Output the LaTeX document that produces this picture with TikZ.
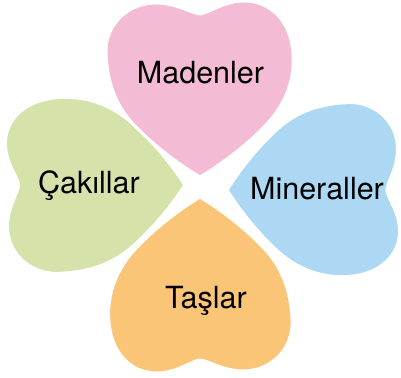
\documentclass[tikz,border=0pt]{standalone}
\usepackage{fontspec}
\setmainfont{TeX Gyre Heros}
\definecolor{petalpink}{RGB}{243,187,212}
\definecolor{petalgreen}{RGB}{213,226,170}
\definecolor{petalblue}{RGB}{172,216,243}
\definecolor{petalorange}{RGB}{250,197,118}
\newcommand\heartshape{(0,0) .. controls (20,12) and (45,30) .. (66,52)
 .. controls (86,73) and (95,98) .. (93,124)
 .. controls (91,154) and (72,177) .. (42,176)
 .. controls (22,175) and (9,164) .. (0,163)
 .. controls (-9,164) and (-22,173) .. (-42,174)
 .. controls (-72,175) and (-95,152) .. (-94,124)
 .. controls (-93,98) and (-86,73) .. (-66,52)
 .. controls (-45,30) and (-20,12) .. (0,0) -- cycle}
\tikzset{
  petal/.style={draw=white, line width=3pt, line join=round},
  label/.style={inner sep=0pt, anchor=base, font=\fontsize{30.5}{32}\selectfont, text=black}
}
\begin{document}
\begin{tikzpicture}[x=1pt,y=1pt]
\fill[white] (0,0) rectangle (401,377);
\useasboundingbox (0,0) rectangle (401,377);
\begin{scope}[shift={(185,192)}, rotate=90, xscale=0.94, yscale=1.02]
  \path[petal, fill=petalgreen] \heartshape;
\end{scope}
\begin{scope}[shift={(227,187)}, rotate=-90, xscale=0.93, yscale=0.98]
  \path[petal, fill=petalblue] \heartshape;
\end{scope}
\begin{scope}[shift={(200,200)}, rotate=0]
  \path[petal, fill=petalpink] \heartshape;
\end{scope}
\begin{scope}[shift={(200,180)}, rotate=180, xscale=0.98]
  \path[petal, fill=petalorange] \heartshape;
\end{scope}
\node[label] (madenler) at (200.5,293.7) {Madenler};
\node[label] (cakillar) at (89,183.7) {Çakıllar};
\node[label] (mineraller) at (317,177.5) {Mineraller};
\node[label] (taslar) at (206,68.7) {Taşlar};
\end{tikzpicture}
\end{document}
